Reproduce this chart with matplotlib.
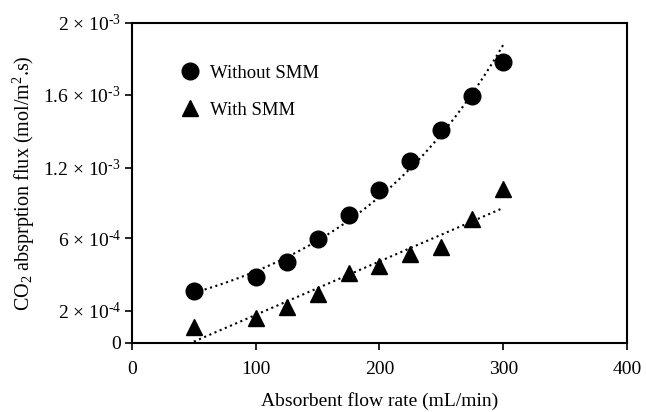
import numpy as np
import matplotlib as mpl
mpl.use("Agg")
import matplotlib.pyplot as plt

# ========= DATA =========
flow_rate = [50, 100, 125, 150, 175, 200, 225, 250, 275, 300]
flux_without_smm = [3.25e-4, 4.15e-4, 5.05e-4, 6.52e-4, 8.03e-4,
                    9.58e-4, 1.138e-3, 1.331e-3, 1.541e-3, 1.755e-3]
flux_with_smm = [1.01e-4, 1.59e-4, 2.26e-4, 3.04e-4, 4.36e-4,
                 4.82e-4, 5.55e-4, 5.99e-4, 7.72e-4, 9.64e-4]

xticks = [0, 100, 200, 300, 400]
# tick marks in the source figure are not evenly spaced against their labels
ytick_pos = [0, 2.0e-4, 6.54e-4, 1.094e-3, 1.553e-3, 2.0e-3]
ytick_labels = ["0", r"2 × 10$^{\text{-}4}$", r"6 × 10$^{\text{-}4}$",
                r"1.2 × 10$^{\text{-}3}$", r"1.6 × 10$^{\text{-}3}$",
                r"2 × 10$^{\text{-}3}$"]

# ========= STYLE =========
mpl.rcParams.update({
    "font.family": ["Liberation Serif", "DejaVu Serif"],
    "mathtext.fontset": "custom",
    "mathtext.rm": "Liberation Serif",
    "mathtext.it": "Liberation Serif:italic",
    "font.size": 14,
})

x = np.array(flow_rate, dtype=float)
y1 = np.array(flux_without_smm)
y2 = np.array(flux_with_smm)

# trend lines: exponential for "without", linear for "with"
b1, a1 = np.polyfit(x, np.log(y1), 1)
m2, c2 = np.polyfit(x, y2, 1)
xf = np.linspace(x.min(), x.max(), 100)

fig = plt.figure(figsize=(6.46, 4.12), dpi=100)
ax = fig.add_axes([0.2043, 0.1675, 0.7663, 0.7767])

dots = (0, (1, 1.7))
ax.plot(xf, np.exp(a1 + b1 * xf), color="black", lw=1.5, ls=dots)
ax.plot(xf, m2 * xf + c2, color="black", lw=1.5, ls=dots)

ax.plot(x, y1, "o", color="black", ms=12, label="Without SMM")
ax.plot(x, y2, "^", color="black", ms=11.5, label="With SMM")

ax.set_xlim(0, 400)
ax.set_ylim(0, 2e-3)
ax.set_xticks(xticks)
ax.set_yticks(ytick_pos)
ax.set_yticklabels(ytick_labels)
ax.tick_params(direction="out", length=5, width=1.2, labelsize=14)
ax.tick_params(axis="x", pad=8)
ax.tick_params(axis="y", pad=3)
for s in ax.spines.values():
    s.set_linewidth(1.5)

ax.set_xlabel("Absorbent flow rate (mL/min)", fontsize=14, labelpad=10)
ax.set_ylabel(r"CO$_2$ absprption flux (mol/m$^2$.s)", fontsize=14.5)
ax.yaxis.set_label_coords(-0.192, 0.5)

ax.legend(loc="upper left", bbox_to_anchor=(0.08, 0.893), frameon=False,
          fontsize=13.5, handletextpad=0.45, labelspacing=1.05,
          handlelength=1.2, borderaxespad=0)

fig.savefig("out.png", dpi=100)
